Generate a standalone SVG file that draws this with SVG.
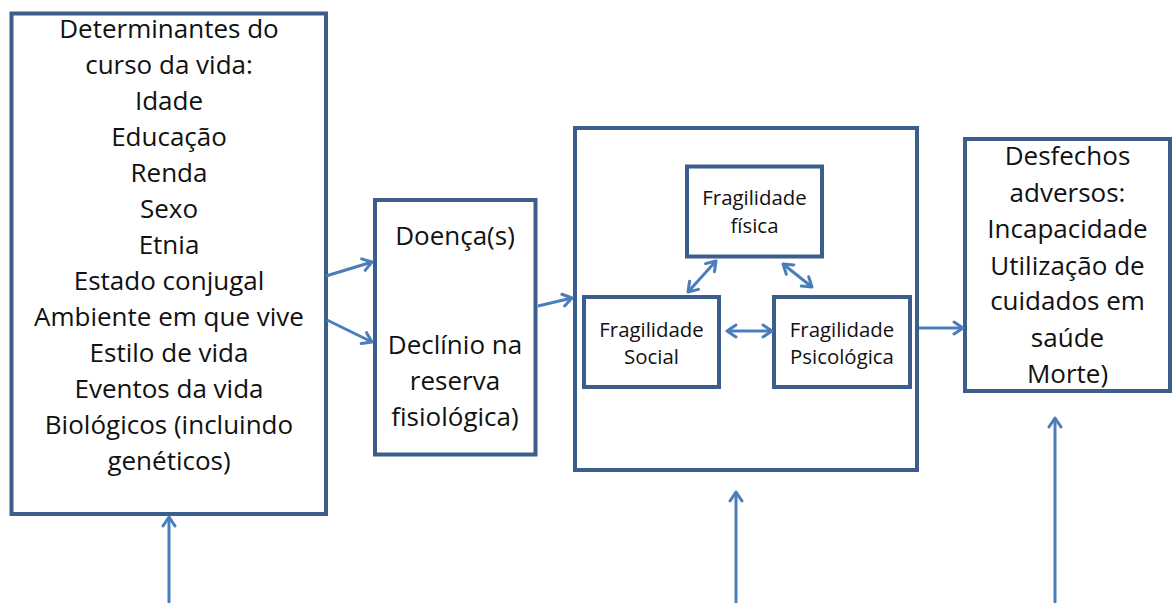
<svg xmlns="http://www.w3.org/2000/svg" width="1176" height="603" viewBox="0 0 1176 603">
  <style>
    .box { fill: #ffffff; stroke: #3b5e8c; stroke-width: 4; }
    .big { font-family: "Open Sans", "Noto Sans", sans-serif; font-size: 26px; fill: #111111; text-anchor: middle; }
    .small { font-family: "Open Sans", "Noto Sans", sans-serif; font-size: 20.4px; fill: #111111; text-anchor: middle; }
    .conn { fill: none; stroke: #4a7ebb; stroke-width: 3; }
  </style>
  <defs>
    <marker id="head" viewBox="0 0 14 16" refX="11" refY="8" markerWidth="14" markerHeight="16" markerUnits="userSpaceOnUse" orient="auto-start-reverse">
      <path d="M2,2 L11,8 L2,14" fill="none" stroke="#4a7ebb" stroke-width="3" stroke-linecap="round" stroke-linejoin="round"/>
    </marker>
  </defs>

  <rect width="1176" height="603" fill="#ffffff"/>

  <g id="determinantes">
    <rect class="box" x="11.5" y="13.5" width="314.5" height="500.5"/>
    <text class="big" x="169" y="38">Determinantes do</text>
    <text class="big" x="169" y="74">curso da vida:</text>
    <text class="big" x="169" y="110">Idade</text>
    <text class="big" x="169" y="146">Educação</text>
    <text class="big" x="169" y="182">Renda</text>
    <text class="big" x="169" y="218">Sexo</text>
    <text class="big" x="169" y="254">Etnia</text>
    <text class="big" x="169" y="290">Estado conjugal</text>
    <text class="big" x="169" y="326">Ambiente em que vive</text>
    <text class="big" x="169" y="362">Estilo de vida</text>
    <text class="big" x="169" y="398">Eventos da vida</text>
    <text class="big" x="169" y="434">Biológicos (incluindo</text>
    <text class="big" x="169" y="470">genéticos)</text>
  </g>

  <g id="doencas">
    <rect class="box" x="375" y="200" width="160.5" height="254.5"/>
    <text class="big" x="455" y="245">Doença(s)</text>
    <text class="big" x="455" y="354">Declínio na</text>
    <text class="big" x="455" y="390">reserva</text>
    <text class="big" x="455" y="426">fisiológica)</text>
  </g>

  <g id="fragilidade">
    <rect class="box" x="575" y="128" width="342" height="342"/>
  </g>

  <g id="fragilidade-fisica">
    <rect class="box" x="687" y="166.5" width="135" height="90"/>
    <text class="small" x="754.5" y="205">Fragilidade</text>
    <text class="small" x="754.5" y="233">física</text>
  </g>

  <g id="fragilidade-social">
    <rect class="box" x="584" y="297" width="135" height="90"/>
    <text class="small" x="651.5" y="337">Fragilidade</text>
    <text class="small" x="651.5" y="364">Social</text>
  </g>

  <g id="fragilidade-psicologica">
    <rect class="box" x="774" y="297" width="136" height="90"/>
    <text class="small" x="842" y="337">Fragilidade</text>
    <text class="small" x="842" y="364">Psicológica</text>
  </g>

  <g id="desfechos">
    <rect class="box" x="965" y="139" width="205" height="252"/>
    <text class="big" x="1067.5" y="165">Desfechos</text>
    <text class="big" x="1067.5" y="202">adversos:</text>
    <text class="big" x="1067.5" y="238">Incapacidade</text>
    <text class="big" x="1067.5" y="275">Utilização de</text>
    <text class="big" x="1067.5" y="310">cuidados em</text>
    <text class="big" x="1067.5" y="347">saúde</text>
    <text class="big" x="1067.5" y="383">Morte)</text>
  </g>

  <g id="connectors">
    <line class="conn" x1="326" y1="276" x2="372" y2="262" marker-end="url(#head)"/>
    <line class="conn" x1="327" y1="320" x2="372" y2="342" marker-end="url(#head)"/>
    <line class="conn" x1="538" y1="306" x2="572" y2="298" marker-end="url(#head)"/>
    <line class="conn" x1="919" y1="328" x2="963" y2="328" marker-end="url(#head)"/>
    <line class="conn" x1="688" y1="292" x2="716" y2="261" marker-start="url(#head)" marker-end="url(#head)"/>
    <line class="conn" x1="783" y1="264" x2="812" y2="287" marker-start="url(#head)" marker-end="url(#head)"/>
    <line class="conn" x1="727" y1="331" x2="772" y2="331" marker-start="url(#head)" marker-end="url(#head)"/>
    <line class="conn" x1="169" y1="603" x2="169" y2="517" marker-end="url(#head)"/>
    <line class="conn" x1="736" y1="603" x2="736" y2="492" marker-end="url(#head)"/>
    <line class="conn" x1="1055" y1="603" x2="1055" y2="418" marker-end="url(#head)"/>
  </g>
</svg>
